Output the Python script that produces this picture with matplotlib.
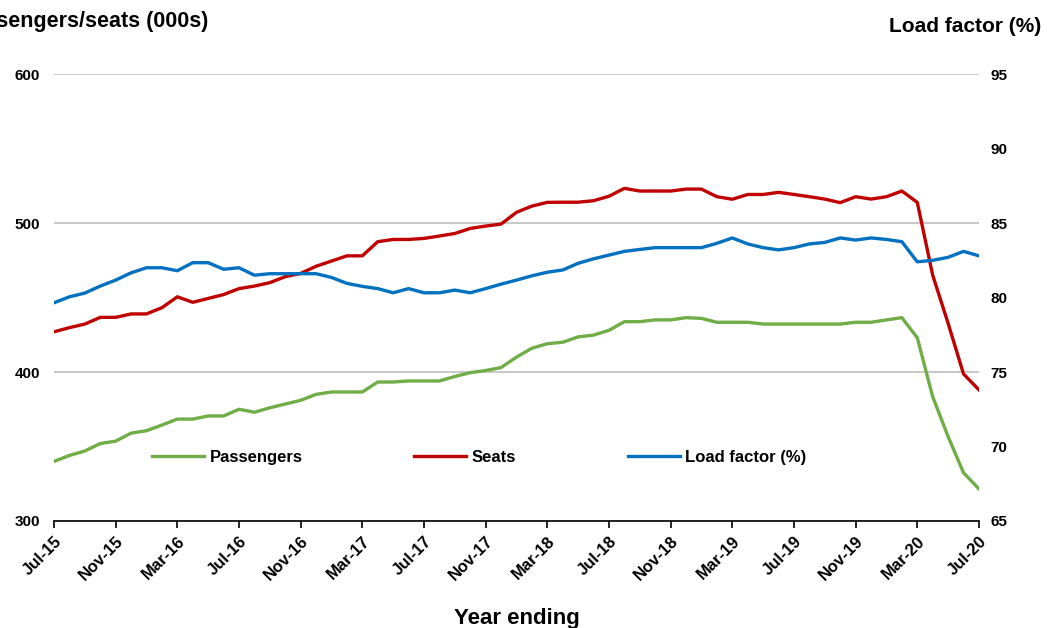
import numpy as np
import pandas as pd
import matplotlib
matplotlib.use('Agg')
import matplotlib.pyplot as plt

plt.rcParams['font.family'] = ['Liberation Sans', 'DejaVu Sans']
plt.rcParams['font.weight'] = 'bold'

# monthly, year ending Jul-15 .. Jul-20
months = pd.date_range('2015-07-01', periods=61, freq='MS')
month_labels = [d.strftime('%b-%y') for d in months]

passengers = [340, 344, 347, 352, 353.6, 359, 360.6, 364.4, 368.4, 368.4,
              370.5, 370.5, 375, 373, 376, 378.5, 381, 385, 386.6, 386.6,
              386.6, 393.3, 393.3, 394, 394, 394, 397, 399.6, 401, 403,
              410, 416, 419, 420, 423.6, 424.8, 428, 433.8, 433.8, 435,
              435, 436.5, 436, 433.4, 433.4, 433.4, 432.2, 432.2, 432.2, 432.2,
              432.2, 432.2, 433.4, 433.4, 435, 436.5, 423, 383.4, 356.6, 332.4,
              321.5]

seats = [427, 429.8, 432.2, 436.7, 436.7, 439, 439, 443.2, 450.5, 446.8,
         449.4, 452, 456, 457.7, 460, 464, 466.2, 471, 474.5, 478,
         478, 487.5, 489, 489, 489.7, 491.3, 493, 496.4, 498, 499.3,
         507.2, 511.4, 513.9, 514, 514, 515, 518, 523.3, 521.5, 521.5,
         521.5, 522.8, 522.8, 517.7, 516, 519.2, 519.2, 520.6, 519.2, 517.7,
         516.1, 513.7, 517.7, 516.1, 517.7, 521.5, 513.9, 465, 432.7, 398.7,
         388]

load_factor = [79.65, 80.05, 80.3, 80.77, 81.17, 81.66, 82.0, 82.0, 81.8, 82.34,
               82.34, 81.9, 82.0, 81.5, 81.6, 81.6, 81.6, 81.6, 81.35, 80.95,
               80.75, 80.6, 80.32, 80.6, 80.32, 80.32, 80.5, 80.32, 80.6, 80.9,
               81.17, 81.46, 81.7, 81.85, 82.3, 82.6, 82.85, 83.1, 83.23, 83.35,
               83.35, 83.35, 83.35, 83.64, 84.0, 83.6, 83.35, 83.2, 83.35, 83.6,
               83.7, 84.0, 83.86, 84.0, 83.9, 83.75, 82.4, 82.5, 82.7, 83.1,
               82.8]

GREEN = '#70AD47'
RED = '#C00000'
BLUE = '#0070C0'

x = np.arange(len(months))

fig = plt.figure(figsize=(10.47, 6.28), dpi=100)
ax = fig.add_axes([0.0516, 0.1704, 0.8834, 0.7116])
ax2 = ax.twinx()

l1, = ax.plot(x, passengers, color=GREEN, lw=2.4, label='Passengers')
l2, = ax.plot(x, seats, color=RED, lw=2.4, label='Seats')
l3, = ax2.plot(x, load_factor, color=BLUE, lw=2.4, label='Load factor (%)')

ax.set_xlim(0, 60)
ax.set_ylim(300, 600)
ax.set_yticks([300, 400, 500, 600])
ax2.set_ylim(65, 95)
ax2.set_yticks(np.arange(65, 96, 5))

ax.grid(True, axis='y', color='#BFBFBF', lw=1.2)
ax.set_axisbelow(True)
ax2.set_zorder(ax.get_zorder() + 1)
ax2.patch.set_visible(False)

for a in (ax, ax2):
    for s in ('left', 'right', 'top'):
        a.spines[s].set_visible(False)
ax2.spines['bottom'].set_visible(False)
ax.spines['bottom'].set_color('black')
ax.spines['bottom'].set_linewidth(1.2)

tick_pos = x[::4]
ax.set_xticks(tick_pos)
ax.set_xticklabels([month_labels[i] for i in tick_pos], rotation=45, ha='right',
                   rotation_mode='anchor', fontsize=12, fontweight='bold')
ax.tick_params(axis='x', direction='out', length=5, width=1.2, pad=4)
ax.tick_params(axis='y', length=0, pad=10, labelsize=11)
ax2.tick_params(axis='y', length=0, pad=8, labelsize=11)
for lab in ax.get_yticklabels() + ax2.get_yticklabels():
    lab.set_fontweight('bold')

ax.set_xlabel('Year ending', fontsize=16, fontweight='bold', labelpad=18)
fig.text(208 / 1047, 1 - 22 / 628, 'Passengers/seats (000s)', ha='right', va='center',
         fontsize=15.5, fontweight='bold')
fig.text(1041 / 1047, 1 - 27 / 628, 'Load factor (%)', ha='right', va='center',
         fontsize=15, fontweight='bold')

ax.legend(handles=[l1, l2, l3], loc='center', bbox_to_anchor=(0.46, 0.143), ncol=3,
          frameon=False, handlelength=3.1, handletextpad=0.35, columnspacing=6.7,
          prop={'weight': 'bold', 'size': 12})

fig.savefig('out.png', dpi=100, facecolor='white')
